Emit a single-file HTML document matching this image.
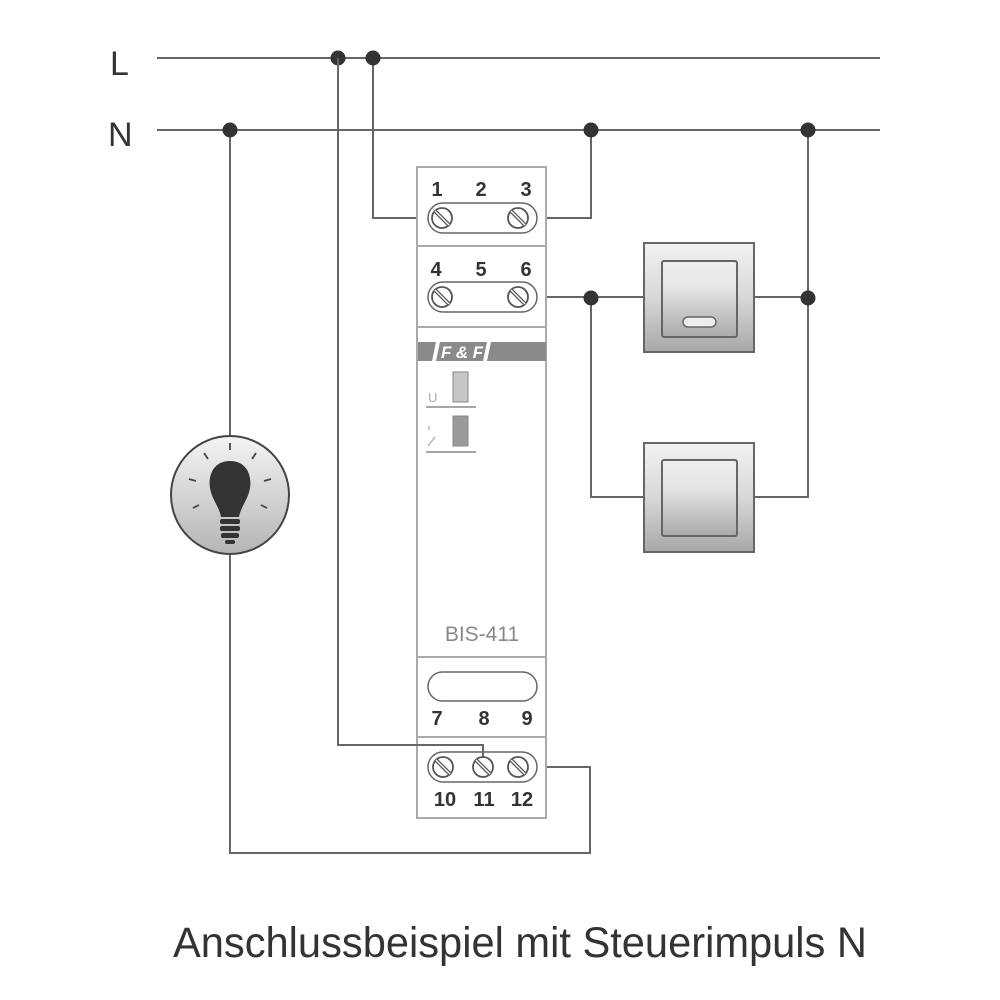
<!DOCTYPE html>
<html><head><meta charset="utf-8"><style>html,body{margin:0;padding:0;background:#fff}svg{display:block}</style></head>
<body>
<svg width="1000" height="1000" viewBox="0 0 1000 1000" xmlns="http://www.w3.org/2000/svg">
<defs>
<linearGradient id="sw" x1="0" y1="0" x2="0" y2="1">
<stop offset="0" stop-color="#f2f2f2"/><stop offset="0.5" stop-color="#d8d8d8"/><stop offset="1" stop-color="#a8a8a8"/></linearGradient>
<linearGradient id="swi" x1="0" y1="0" x2="0" y2="1">
<stop offset="0" stop-color="#eeeeee"/><stop offset="0.35" stop-color="#e6e6e6"/><stop offset="1" stop-color="#a9a9a9"/></linearGradient>
<linearGradient id="lamp" x1="0" y1="0" x2="0" y2="1">
<stop offset="0" stop-color="#f4f4f4"/><stop offset="1" stop-color="#b5b5b5"/></linearGradient>
<g id="screw"><circle r="10" fill="#fff" stroke="#555" stroke-width="1.8"/><line x1="-7" y1="-7" x2="7" y2="7" stroke="#555" stroke-width="4"/><line x1="-7" y1="-7" x2="7" y2="7" stroke="#fff" stroke-width="1.4"/></g>
</defs>
<g font-family="'Liberation Sans',sans-serif" fill="#333">
<text x="110" y="75" font-size="34">L</text>
<text x="108" y="146" font-size="34">N</text>
</g>
<g stroke="#666" stroke-width="2" fill="none">
<line x1="157" y1="58" x2="880" y2="58"/>
<line x1="157" y1="130" x2="880" y2="130"/>
<polyline points="373,58 373,218 440,218"/>
<polyline points="520,218 591,218 591,130"/>
<polyline points="520,297 644,297"/>
<polyline points="591,297 591,497 644,497"/>
<polyline points="754,297 808,297"/>
<polyline points="808,130 808,497 754,497"/>
<polyline points="520,767 590,767 590,853 230,853 230,555"/>
<line x1="230" y1="130" x2="230" y2="435"/>
</g>
<g fill="#333">
<circle cx="338" cy="58" r="7.5"/><circle cx="373" cy="58" r="7.5"/>
<circle cx="230" cy="130" r="7.5"/><circle cx="591" cy="130" r="7.5"/><circle cx="808" cy="130" r="7.5"/>
<circle cx="591" cy="298" r="7.5"/><circle cx="808" cy="298" r="7.5"/>
</g>
<!-- module -->
<g stroke="#aaa" stroke-width="2" fill="none">
<rect x="417" y="167" width="129" height="651" fill="#fff"/>
<line x1="417" y1="246" x2="546" y2="246"/>
<line x1="417" y1="327" x2="546" y2="327"/>
<line x1="417" y1="657" x2="546" y2="657"/>
<line x1="417" y1="737" x2="546" y2="737"/>
</g>
<g stroke="#666" stroke-width="1.5" fill="#fff">
<rect x="428" y="203" width="109" height="30" rx="15"/>
<rect x="428" y="282" width="109" height="30" rx="15"/>
<rect x="428" y="672" width="109" height="29" rx="14.5"/>
<rect x="428" y="752" width="109" height="30" rx="15"/>
</g>
<polyline points="338,58 338,745 483,745 483,765" stroke="#666" stroke-width="2" fill="none"/>
<use href="#screw" x="442" y="218"/><use href="#screw" x="518" y="218"/>
<use href="#screw" x="442" y="297"/><use href="#screw" x="518" y="297"/>
<use href="#screw" x="443" y="767"/><use href="#screw" x="483" y="767"/><use href="#screw" x="518" y="767"/>
<g font-family="'Liberation Sans',sans-serif" font-weight="bold" font-size="20" fill="#333" text-anchor="middle">
<text x="437" y="196">1</text><text x="481" y="196">2</text><text x="526" y="196">3</text>
<text x="436" y="276">4</text><text x="481" y="276">5</text><text x="526" y="276">6</text>
<text x="437" y="725">7</text><text x="484" y="725">8</text><text x="527" y="725">9</text>
<text x="445" y="806">10</text><text x="484" y="806">11</text><text x="522" y="806">12</text>
</g>
<rect x="418" y="342" width="128" height="19" fill="#8a8a8a"/>
<polygon points="432,361 436,342 440,342 436,361" fill="#fff"/>
<polygon points="483,361 487,342 491,342 487,361" fill="#fff"/>
<text x="441" y="358" font-family="'Liberation Sans',sans-serif" font-weight="bold" font-style="italic" font-size="17" fill="#fff" textLength="42">F&amp;F</text>
<rect x="453" y="372" width="15" height="30" fill="#c6c6c6" stroke="#888" stroke-width="1"/>
<rect x="453" y="416" width="15" height="30" fill="#9a9a9a" stroke="#888" stroke-width="1"/>
<line x1="426" y1="407" x2="476" y2="407" stroke="#888" stroke-width="1.5"/>
<line x1="426" y1="452" x2="476" y2="452" stroke="#888" stroke-width="1.5"/>
<text x="428" y="402" font-family="'Liberation Sans',sans-serif" font-size="13" fill="#aaa">U</text>
<path d="M429,426 v4 M428,446 l7,-9" stroke="#aaa" stroke-width="1.2" fill="none"/>
<text x="482" y="641" text-anchor="middle" font-family="'Liberation Sans',sans-serif" font-size="21" fill="#888">BIS-411</text>
<!-- switches -->
<g stroke="#666" stroke-width="2">
<rect x="644" y="243" width="110" height="109" fill="url(#sw)"/>
<rect x="662" y="261" width="75" height="76" rx="2" fill="url(#swi)"/>
<rect x="683" y="317" width="33" height="10" rx="5" fill="#eee" stroke-width="1.5"/>
<rect x="644" y="443" width="110" height="109" fill="url(#sw)"/>
<rect x="662" y="460" width="75" height="76" rx="2" fill="url(#swi)"/>
</g>
<!-- lamp -->
<circle cx="230" cy="495" r="59" fill="url(#lamp)" stroke="#444" stroke-width="2"/>
<g stroke="#444" stroke-width="1.8">
<line x1="230" y1="443" x2="230" y2="450"/>
<line x1="204" y1="453" x2="208" y2="459"/><line x1="256" y1="453" x2="252" y2="459"/>
<line x1="189" y1="479" x2="196" y2="481"/><line x1="271" y1="479" x2="264" y2="481"/>
<line x1="193" y1="508" x2="199" y2="505"/><line x1="267" y1="508" x2="261" y2="505"/>
</g>
<path d="M230,461 C213,461 208,476 210,488 C212,500 219,506 221,517 L239,517 C241,506 248,500 250,488 C252,476 247,461 230,461 Z" fill="#333"/>
<g fill="#333"><rect x="220" y="519" width="20" height="5" rx="2"/><rect x="220" y="526" width="20" height="5" rx="2"/><rect x="221" y="533" width="18" height="5" rx="2"/><rect x="225" y="540" width="10" height="4" rx="2"/></g>
<text x="173" y="957" font-family="'Liberation Sans',sans-serif" font-size="43" fill="#333" textLength="694" lengthAdjust="spacingAndGlyphs">Anschlussbeispiel mit Steuerimpuls N</text>
</svg>
</body></html>
